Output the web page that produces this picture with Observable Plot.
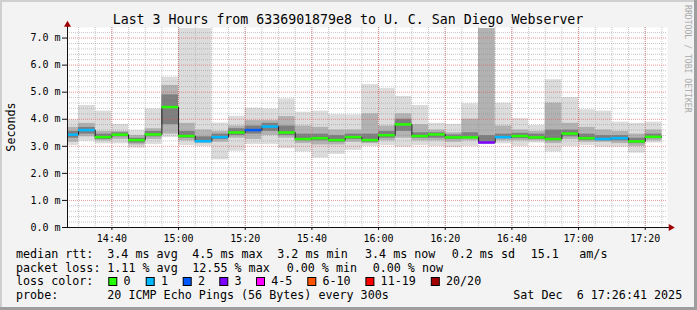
<!DOCTYPE html>
<html><head><meta charset="utf-8">
<script src="https://cdn.jsdelivr.net/npm/d3@7"></script>
<script src="https://cdn.jsdelivr.net/npm/@observablehq/plot@0.6"></script>
<style>
html,body{margin:0;padding:0;background:#f3f3f3;}
#chart{width:697px;height:310px;overflow:hidden;}
</style></head><body><div id="chart"></div>
<script>
// ---- data ----
const barStart = ["14:25","14:30","14:35","14:40","14:45","14:50","14:55","15:00","15:05","15:10","15:15","15:20","15:25","15:30","15:35","15:40","15:45","15:50","15:55","16:00","16:05","16:10","16:15","16:20","16:25","16:30","16:35","16:40","16:45","16:50","16:55","17:00","17:05","17:10","17:15","17:20"];
const medianMs = [3.43,3.60,3.34,3.43,3.23,3.44,4.45,3.38,3.19,3.34,3.51,3.60,3.73,3.51,3.27,3.30,3.23,3.34,3.23,3.41,3.81,3.38,3.44,3.33,3.33,3.14,3.34,3.38,3.33,3.27,3.47,3.30,3.27,3.30,3.18,3.35];
const lossPings = [1,1,0,0,0,0,0,0,1,1,0,2,1,0,0,0,0,0,0,0,0,0,0,0,0,3,1,0,0,0,0,0,1,1,0,0];
const minMs  = [3.03,3.19,3.09,3.09,2.93,3.07,3.32,3.03,3.00,2.50,2.82,3.07,3.07,2.91,2.79,2.57,2.70,2.85,3.00,3.03,2.97,3.03,3.00,2.95,3.00,3.07,3.09,3.00,3.12,2.79,3.00,3.03,2.97,2.97,2.75,3.12];
const maxMs  = [3.98,4.51,4.30,3.81,3.58,4.38,5.55,7.35,7.35,3.86,4.11,4.41,4.38,4.75,4.26,4.30,4.17,4.16,5.28,5.14,4.84,4.51,3.85,3.81,4.57,7.35,4.59,4.02,3.77,5.46,4.80,4.35,4.30,3.89,3.85,3.89];
const midLoMs = [3.15,3.35,3.20,3.25,3.05,3.25,3.45,3.20,3.10,3.15,3.30,3.25,3.40,3.30,3.10,3.05,3.05,3.15,3.10,3.20,3.30,3.20,3.20,3.15,3.20,3.10,3.20,3.20,3.20,3.10,3.25,3.15,3.15,3.10,3.00,3.20];
const midHiMs = [3.70,3.85,3.55,3.55,3.40,3.65,5.25,3.85,3.60,3.55,3.75,3.95,3.95,4.10,3.75,3.70,3.60,3.60,4.20,3.75,4.20,3.80,3.60,3.50,4.00,7.35,3.75,3.60,3.55,4.60,3.85,3.70,3.60,3.55,3.45,3.60];
const coreLoMs = [3.30,3.45,3.25,3.35,3.12,3.35,3.80,3.30,3.15,3.25,3.40,3.45,3.55,3.40,3.20,3.20,3.15,3.25,3.15,3.30,3.55,3.30,3.30,3.25,3.28,3.12,3.28,3.28,3.25,3.20,3.35,3.22,3.20,3.20,3.10,3.28];
const coreHiMs = [3.55,3.70,3.45,3.50,3.30,3.55,4.90,3.55,3.35,3.45,3.65,3.75,3.85,3.75,3.45,3.45,3.40,3.45,3.45,3.55,4.00,3.50,3.50,3.42,3.50,3.40,3.45,3.48,3.45,3.60,3.60,3.45,3.40,3.40,3.30,3.45];

const yTickValues = [0,1,2,3,4,5,6,7];
const yTickLabels = ["0.0 m","1.0 m","2.0 m","3.0 m","4.0 m","5.0 m","6.0 m","7.0 m"];
const xTickLabels = ["14:40","15:00","15:20","15:40","16:00","16:20","16:40","17:00","17:20"];
const lossLegendLabels = ["0","1","2","3","4-5","6-10","11-19","20/20"];
const lossLegendColors = ["#26ff00","#00b8ff","#0059ff","#7e00ff","#ff00ff","#ff5500","#ff0000","#a00000"];

const titleText = "Last 3 Hours from 6336901879e8 to U. C. San Diego Webserver";
const rttStats = ["median rtt:","3.4 ms avg","4.5 ms max","3.2 ms min","3.4 ms now","0.2 ms sd","15.1","am/s"];
const lossStats = ["packet loss:","1.11 % avg","12.55 % max","0.00 % min","0.00 % now"];
const probeText = ["probe:","20 ICMP Echo Pings (56 Bytes) every 300s","Sat Dec  6 17:26:41 2025"];

// ---- build ----
const t = hm => { const [h,m,s] = hm.split(":").map(Number); return new Date(Date.UTC(2025,11,6,h,m,s||0)); };
const xDomain = [t("14:26:41"), t("17:26:41")];
const lossColor = n => n === 0 ? lossLegendColors[0] : n === 1 ? lossLegendColors[1] : n === 2 ? lossLegendColors[2] : n === 3 ? lossLegendColors[3] : n <= 5 ? lossLegendColors[4] : n <= 10 ? lossLegendColors[5] : n <= 19 ? lossLegendColors[6] : lossLegendColors[7];

const bars = barStart.map((s,i) => ({
  x1: t(s), x2: new Date(+t(s) + 5*60000),
  med: medianMs[i], loss: lossPings[i],
  lo: minMs[i], hi: maxMs[i], mlo: midLoMs[i], mhi: midHiMs[i], clo: coreLoMs[i], chi: coreHiMs[i]
}));
const stepData = bars.map(d => ({x: d.x1, y: d.med})).concat([{x: bars[bars.length-1].x2, y: bars[bars.length-1].med}]);

const minorTimes = d3.utcMinute.every(5).range(t("14:30"), t("17:26"));
const majorTimes = xTickLabels.map(t);
const minorY = d3.range(1, 37).map(i => +(i*0.2).toFixed(1)).filter(v => Math.abs(v - Math.round(v)) > 1e-6);
const majorY = yTickValues.filter(v => v > 0);

const font = "DejaVu Sans Mono";

const svg = Plot.plot({
  width: 697, height: 310,
  marginLeft: 67, marginRight: 30, marginTop: 27, marginBottom: 83,
  style: {background: "#f3f3f3", fontFamily: font, fontSize: "10px", color: "#000", overflow: "visible"},
  x: {type: "utc", domain: xDomain},
  y: {domain: [0, 7.39]},
  marks: [
    Plot.frame({fill: "#ffffff", stroke: null}),
    Plot.rect(bars, {x1: "x1", x2: "x2", y1: "lo", y2: "hi", fill: "#dcdcdc", clip: true}),
    Plot.rect(bars, {x1: "x1", x2: "x2", y1: "mlo", y2: "mhi", fill: "#b2b2b2", clip: true}),
    Plot.rect(bars, {x1: "x1", x2: "x2", y1: "clo", y2: "chi", fill: "#7e7e7e", clip: true}),
    Plot.ruleY(minorY, {stroke: "#8f8f8f", strokeOpacity: 0.5, strokeDasharray: "1,1"}),
    Plot.ruleX(minorTimes, {stroke: "#8f8f8f", strokeOpacity: 0.5, strokeDasharray: "1,1"}),
    Plot.ruleY(majorY, {stroke: "#e05050", strokeOpacity: 0.6, strokeDasharray: "1,1"}),
    Plot.ruleX(majorTimes, {stroke: "#e05050", strokeOpacity: 0.6, strokeDasharray: "1,1"}),
    Plot.line(stepData, {x: "x", y: "y", curve: "step-after", stroke: "#222", strokeWidth: 1, clip: true}),
    Plot.ruleY(bars, {x1: "x1", x2: "x2", y: "med", stroke: d => lossColor(d.loss), strokeWidth: 2.5, clip: true}),
    Plot.axisY({ticks: yTickValues, tickFormat: d => yTickLabels[yTickValues.indexOf(d)], tickSize: 5, tickPadding: 2, label: null, stroke: "#101010", fontFamily: font, fontSize: 10, fill: "#000"}),
    Plot.axisX({ticks: majorTimes, tickFormat: d => xTickLabels[majorTimes.findIndex(m => +m === +d)], tickSize: 3, tickPadding: 4, label: null, stroke: "#101010", fontFamily: font, fontSize: 10, fill: "#000"}),
    Plot.ruleX([xDomain[0]], {y1: 0, y2: 7.45, stroke: "#101010"}),
    Plot.ruleY([0], {x1: xDomain[0], x2: t("17:28:20"), stroke: "#101010"}),
    Plot.dot([{x: xDomain[0], y: 7.49}], {x: "x", y: "y", symbol: "triangle", r: 2.6, fill: "#a00000", stroke: null}),
    Plot.dot([{x: t("17:27:40"), y: 0}], {x: "x", y: "y", symbol: "triangle", rotate: 90, r: 2.6, fill: "#a00000", stroke: null})
  ]
});

const s = d3.select(svg);
s.selectAll("text").attr("font-family", font);
// frame shading
s.insert("rect", ":first-child").attr("x", 0).attr("y", 0).attr("width", 697).attr("height", 2).attr("fill", "#cfcfcf");
s.insert("rect", ":first-child").attr("x", 0).attr("y", 0).attr("width", 2).attr("height", 310).attr("fill", "#cfcfcf");
s.append("rect").attr("x", 694).attr("y", 0).attr("width", 3).attr("height", 310).attr("fill", "#9e9e9e");
s.append("rect").attr("x", 0).attr("y", 307).attr("width", 697).attr("height", 3).attr("fill", "#9e9e9e");

const txt = (x, y, str, size, opts = {}) => {
  const e = s.append("text").attr("x", x).attr("y", y).attr("font-family", font).attr("font-size", size)
    .attr("fill", opts.fill || "#000").attr("text-anchor", opts.anchor || "start").style("white-space", "pre").style("font-family", font).text(str);
  if (opts.transform) e.attr("transform", opts.transform);
  return e;
};
txt(348, 24, titleText, 13.25, {anchor: "middle"});
txt(0, 0, "Seconds", 11.7, {anchor: "middle", transform: "translate(15,127) rotate(-90)"});
txt(0, 0, "RRDTOOL / TOBI OETIKER", 8.15, {fill: "#aaaaaa", transform: "translate(684.5,5) rotate(90)"});

const L = 11.7;
const rttX = [16, 107.3, 192.3, 277.3, 365, 451.7, 530.7, 579.3];
rttStats.forEach((v, i) => txt(rttX[i], 258.3, v, L));
const lossX = [16, 107.3, 192.3, 286.7, 372.7];
lossStats.forEach((v, i) => txt(lossX[i], 271.7, v, L));
txt(16, 285.2, "loss color:", L);
const sqX = [108.3, 145.7, 182.7, 219.3, 256, 307.3, 365.4, 430.8];
lossLegendLabels.forEach((lab, i) => {
  s.append("rect").attr("x", sqX[i] + 0.5).attr("y", 277.5).attr("width", 8).attr("height", 8)
    .attr("fill", lossLegendColors[i]).attr("stroke", "#000").attr("stroke-width", 1);
  txt(sqX[i] + 15.2, 285.2, lab, L);
});
const probeX = [16, 107.3, 513.3];
probeText.forEach((v, i) => txt(probeX[i], 298.6, v, L));

document.getElementById("chart").appendChild(svg);
</script></body></html>
